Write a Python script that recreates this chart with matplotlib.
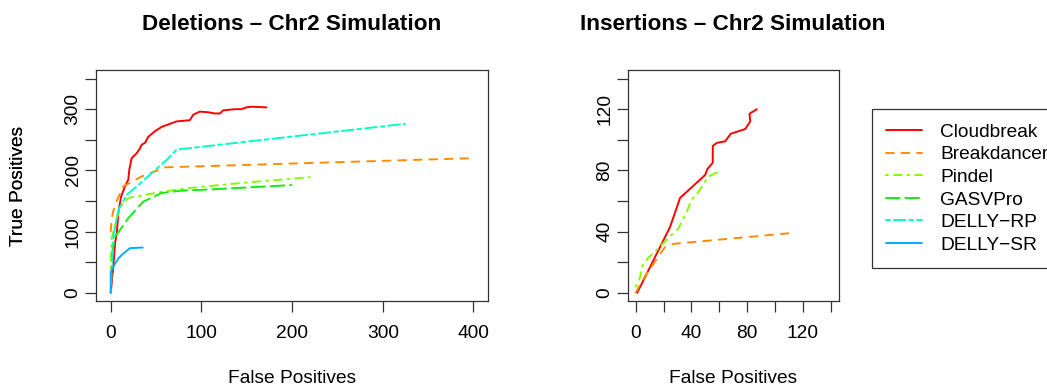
import matplotlib
matplotlib.use("Agg")
import matplotlib.pyplot as plt
from matplotlib.lines import Line2D

plt.rcParams['font.family'] = ['Liberation Sans', 'DejaVu Sans']

# ---------------- data ----------------
methods = ["Cloudbreak", "Breakdancer", "Pindel", "GASVPro", "DELLY\u2212RP", "DELLY\u2212SR"]
colors = ["#FF0000", "#FF8C00", "#80FF00", "#10EE10", "#00FFC8", "#00B0FF"]
dashes = [None, (4, 4), (1, 3, 4, 3), (7, 3), (2, 2, 6, 2), None]

# Deletions
del_cb_fp = [0, 2.9, 4.8, 6.6, 8.4, 11.4, 15.8, 19.4, 20.5, 23.1, 28.6, 32.3, 34.1, 37.8, 41.5,
             48.8, 56.1, 67.1, 72.6, 87.3, 91, 98.3, 107.5, 114.8, 120.3, 124, 136.9, 144.2,
             149.7, 155.2, 171.7]
del_cb_tp = [0, 43, 81, 97, 130, 157, 174, 185, 201, 220, 228, 236, 242, 245, 255,
             264, 271, 277, 280, 282, 291, 296, 295, 293, 293, 298, 300, 300,
             303, 304, 303]
del_bd_fp = [0, 1, 3, 8, 14, 34, 60, 400]
del_bd_tp = [100, 120, 135, 155, 174, 190, 205, 220]
del_pi_fp = [0, 1.1, 5.5, 10.3, 19.4, 37.8, 56.1, 85.5, 140.6, 219.6]
del_pi_tp = [40, 89, 116, 141, 155, 160, 165, 171, 179, 189]
del_ga_fp = [1, 4.8, 10.3, 19.4, 35.9, 56.1, 78.1, 111, 199.3]
del_ga_tp = [60, 92, 103, 122, 149, 163, 167, 169, 176]
del_rp_fp = [0, 2.9, 4.8, 8.4, 17.6, 30.4, 47, 61.6, 72.6, 324.4]
del_rp_tp = [0, 92, 108, 135, 160, 176, 198, 217, 234, 276]
del_sr_fp = [0, 0, 2.9, 8.4, 12.1, 21.3, 35.3]
del_sr_tp = [0, 34, 43, 56, 62, 73, 74]

# Insertions
ins_cb_fp = [1, 24.6, 31.8, 40.2, 49.8, 51.5, 55.3, 55.3, 58.2, 64.2, 68.3, 78.6, 82.2, 81.7, 87]
ins_cb_tp = [0, 43, 62, 69, 77, 81, 85, 96, 98, 99, 104, 107, 112, 117, 120]
ins_bd_fp = [0, 2.2, 6.7, 12.7, 21.1, 27.1, 110.8]
ins_bd_tp = [0, 4, 11, 19, 30, 32, 39]
ins_pi_fp = [0, 3.1, 4.3, 9.1, 16.3, 23.4, 30.6, 36.6, 40.2, 45, 52.1, 59.3]
ins_pi_tp = [4, 10, 17, 23, 29, 36, 42, 53, 61, 66, 76, 79]

del_xticks = [0, 100, 200, 300, 400]
del_yticks = [0, 50, 100, 150, 200, 250, 300, 350]
del_ylabels = ["0", "", "100", "", "200", "", "300", ""]
ins_ticks = [0, 20, 40, 60, 80, 100, 120, 140]
ins_labels = ["0", "", "40", "", "80", "", "120", ""]

# ---------------- figure ----------------
W, H = 1047, 390
fig = plt.figure(figsize=(W / 100, H / 100), dpi=100)
FS = 13.8
LW = 1.4

def fx(px):
    return px / W

def fy(py):
    return 1 - py / H

bot, top = 301.4, 70.0
L1, R1 = 96.2, 488.0
L2, R2 = 628.0, 838.5
ax1 = fig.add_axes([fx(L1), fy(bot), (R1 - L1) / W, (bot - top) / H])
ax2 = fig.add_axes([fx(L2), fy(bot), (R2 - L2) / W, (bot - top) / H])


def draw(ax, x, y, i):
    kw = dict(color=colors[i], lw=LW, solid_capstyle='round', solid_joinstyle='round',
              dash_capstyle='round', dash_joinstyle='round')
    line, = ax.plot(x, y, **kw)
    if dashes[i] is not None:
        line.set_dashes(dashes[i])
    return line

draw(ax1, del_cb_fp, del_cb_tp, 0)
draw(ax1, del_bd_fp, del_bd_tp, 1)
draw(ax1, del_pi_fp, del_pi_tp, 2)
draw(ax1, del_ga_fp, del_ga_tp, 3)
draw(ax1, del_rp_fp, del_rp_tp, 4)
draw(ax1, del_sr_fp, del_sr_tp, 5)

draw(ax2, ins_cb_fp, ins_cb_tp, 0)
draw(ax2, ins_bd_fp, ins_bd_tp, 1)
draw(ax2, ins_pi_fp, ins_pi_tp, 2)

ax1.set_xlim(-16, 416)
ax1.set_ylim(-14, 364)
ax2.set_xlim(-5.6, 145.6)
ax2.set_ylim(-5.6, 145.6)

ax1.set_xticks(del_xticks)
ax1.set_xticklabels([str(v) for v in del_xticks])
ax1.set_yticks(del_yticks)
ax1.set_yticklabels(del_ylabels)
ax2.set_xticks(ins_ticks)
ax2.set_xticklabels(ins_labels)
ax2.set_yticks(ins_ticks)
ax2.set_yticklabels(ins_labels)

ax_h = bot - top
for ax, L, R in [(ax1, L1, R1), (ax2, L2, R2)]:
    for s in ax.spines.values():
        s.set_linewidth(0.9)
        s.set_color("#333333")
    ax.tick_params(axis='both', direction='out', length=8, width=0.9, color="#333333",
                   labelsize=FS, labelcolor="black")
    ax.tick_params(axis='x', pad=9)
    ax.tick_params(axis='y', pad=2.5)
    for lab in ax.get_yticklabels():
        lab.set_rotation(90)
        lab.set_va('center')
        lab.set_ha('right')
    ax.set_xlabel("False Positives", fontsize=FS)
    ax.set_ylabel("True Positives", fontsize=FS)
    ax.xaxis.set_label_coords(0.5, -(370 - bot) / ax_h)
    ax.yaxis.set_label_coords(-(L - 27) / (R - L), 0.5)

fig.text(fx(292), fy(24), "Deletions \u2013 Chr2 Simulation", ha='center', va='center',
         fontsize=16.2, fontweight='bold')
fig.text(fx(733), fy(24), "Insertions \u2013 Chr2 Simulation", ha='center', va='center',
         fontsize=16.2, fontweight='bold')

handles = []
for i, m in enumerate(methods):
    h = Line2D([], [], color=colors[i], lw=LW, dash_capstyle='round', solid_capstyle='round')
    if dashes[i] is not None:
        h.set_dashes(dashes[i])
    handles.append(h)

leg = fig.legend(handles, methods, loc='upper left', bbox_to_anchor=(fx(872), fy(109)),
                 bbox_transform=fig.transFigure, borderaxespad=0, fontsize=FS,
                 frameon=True, fancybox=False, edgecolor="#333333", framealpha=1,
                 handlelength=1.85, handletextpad=0.95, borderpad=0.75, labelspacing=0.27)
leg.get_frame().set_linewidth(0.9)

fig.savefig("out.png", dpi=100)
